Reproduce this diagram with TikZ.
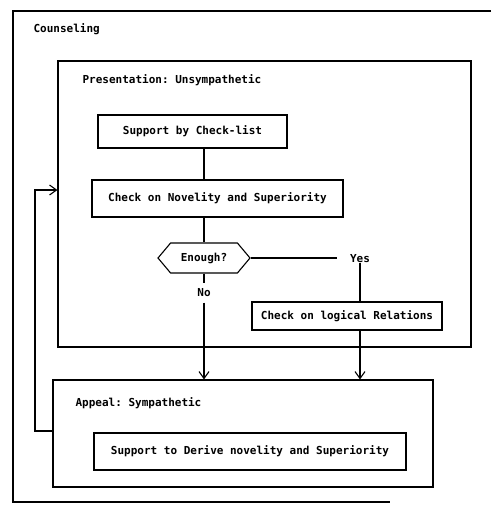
\documentclass[tikz,border=0pt]{standalone}
\usepackage{fontspec}
\setmonofont{DejaVu Sans Mono}
\usepackage{tikz}
\usetikzlibrary{arrows.meta,positioning,shapes.symbols}

\begin{document}
\begin{tikzpicture}[x=1pt, y=-1pt, >={Straight Barb[length=7pt,width=10pt]},
    every node/.style={font=\fontsize{11}{13}\selectfont\ttfamily\bfseries},
    every path/.style={line width=1.1pt},
    box/.style={draw, inner sep=0pt},
    label/.style={anchor=west, inner sep=0pt}]
\useasboundingbox (0,0) rectangle (491,507);

% outer frame (cut off on the right)
\draw (491,11) -| (13,502) -- (390,502);
\node[label] (counsel) at (33,29) {Counseling};

% containers
\node[box, minimum width=413, minimum height=286] (present) at (264.5,204) {};
\node[label] (presentlbl) at (82,80) {Presentation: Unsympathetic};
\node[box, minimum width=380, minimum height=107] (appeal) at (243,433.5) {};
\node[label] (appeallbl) at (75,403) {Appeal: Sympathetic};

% steps
\node[box, minimum width=189, minimum height=33] (checklist) at (192.5,131.5) {Support by Check-list};
\node[box, minimum width=251, minimum height=37] (novelty) at (217.5,198.5) {Check on Novelity and Superiority};
\node[draw, signal, signal to=west and east, signal pointer angle=100,
      minimum width=92, minimum height=30, inner sep=0pt] (enough) at (204,258) {Enough?};
\node[inner sep=1pt] (yes) at (360,259) {Yes};
\node[inner sep=5pt] (no) at (204,293) {No};
\node[box, minimum width=190, minimum height=28] (logical) at (347,316) {Check on logical Relations};
\node[box, minimum width=312, minimum height=37] (derive) at (250,451.5) {Support to Derive novelity and Superiority};

\draw (checklist.south -| enough.north) -- (novelty.north -| enough.north);
\draw (novelty.south -| enough.north) -- (enough.north);
\draw (enough.east) -- ([xshift=-12pt]yes.west |- enough.east);
\draw ([yshift=2pt]yes.south) -- (yes.south |- logical.north);
\draw (enough.south) -- (no.north);
\draw[->] (no.south) -- (no.south |- appeal.north);
\draw[->] (logical.south -| yes.south) -- (yes.south |- appeal.north);

% feedback loop
\coordinate (loopbot) at (35,431);
\coordinate (looptop) at (35,190);
\draw[->] (loopbot -| appeal.west) -- (loopbot) -- (looptop) -- (looptop -| present.west);
\end{tikzpicture}
\end{document}
